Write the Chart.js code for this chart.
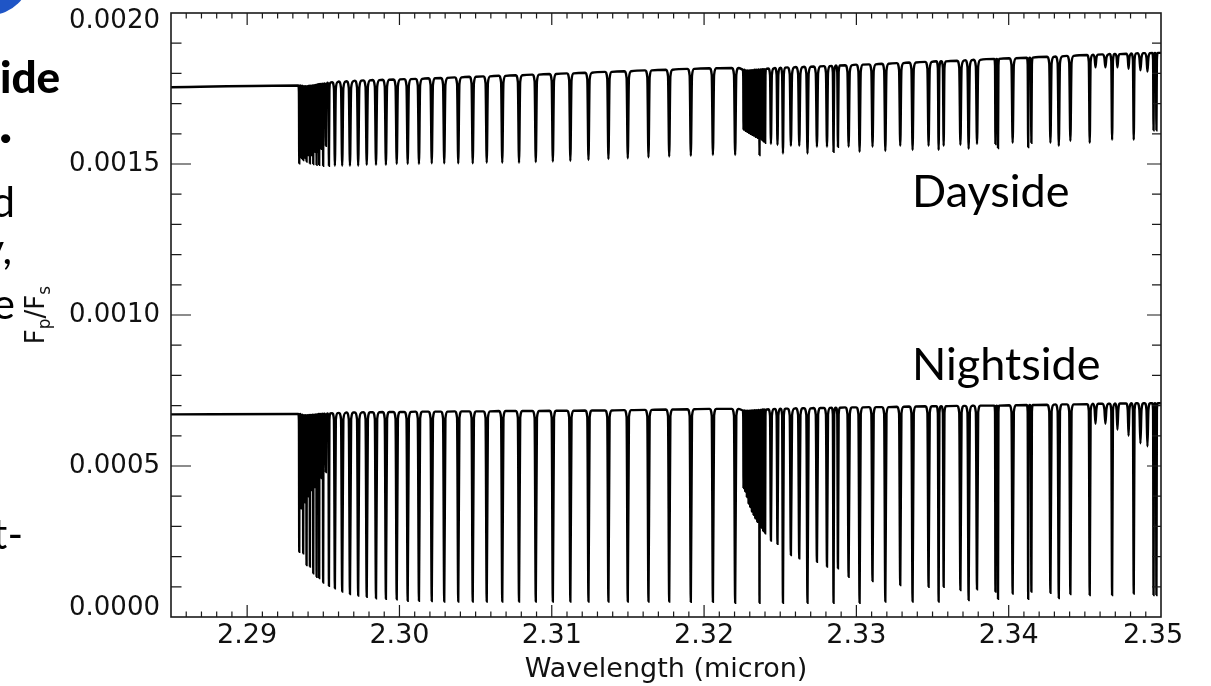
<!DOCTYPE html>
<html lang="en">
<head>
<meta charset="UTF-8">
<script src="https://cdn.jsdelivr.net/npm/chart.js"></script>
<style>
body { margin: 0; background: #fff; }
#wrap { width: 1211px; height: 686px; }
</style>
</head>
<body>
<div id="wrap"><canvas id="spec" width="1211" height="686"></canvas></div>
<script>
// line centres (micron)
const lineWl = [2.29342, 2.29355, 2.29368, 2.29379, 2.29390, 2.29401, 2.29412, 2.29423, 2.29434, 2.29445,
  2.29456, 2.29465, 2.29473, 2.29486, 2.29499, 2.29517, 2.29537, 2.29576, 2.29624, 2.29675,
  2.29729, 2.29785, 2.29846, 2.29911, 2.29982, 2.30054, 2.30128, 2.30212, 2.30294, 2.30386,
  2.30481, 2.30573, 2.30675, 2.30785, 2.30895, 2.31007, 2.31122, 2.31241, 2.31372, 2.31499,
  2.31635, 2.31771, 2.31913, 2.32058, 2.32204, 2.32259, 2.32270, 2.32281, 2.32292, 2.32303,
  2.32314, 2.32325, 2.32336, 2.32349, 2.32364, 2.32378, 2.32388, 2.32401, 2.32439, 2.32482,
  2.32518, 2.32570, 2.32625, 2.32679, 2.32741, 2.32807, 2.32850, 2.32879, 2.32949, 2.33021,
  2.33106, 2.33190, 2.33288, 2.33369, 2.33474, 2.33540, 2.33573, 2.33683, 2.33737, 2.33792,
  2.33913, 2.33930, 2.34026, 2.34128, 2.34149, 2.34274, 2.34329, 2.34405, 2.34532, 2.34570,
  2.34635, 2.34679, 2.34714, 2.34787, 2.34821, 2.34865, 2.34911, 2.34951, 2.34970];

// nightside: line bottoms and continuum beside each line
const nightMin = [.000216, .000360, .000211, .000380, .000172, .000400, .000167, .000420, .000145, .000430,
  .000133, .000450, .000129, .000460, .000114, .000480, .000103, .000095, .000084, .000076,
  .000071, .000067, .000062, .000060, .000059, .000054, .000054, .000053, .000051, .000051,
  .000051, .000051, .000051, .000051, .000051, .000051, .000051, .000051, .000051, .000051,
  .000051, .000051, .000050, .000050, .000047, .000427, .000415, .000397, .000376, .000364,
  .000349, .000338, .000327, .000315, .000047, .000295, .000285, .000277, .000253, .000242,
  .000047, .000205, .000194, .000047, .000183, .000167, .000047, .000161, .000133, .000047,
  .000119, .000051, .000106, .000051, .000100, .000051, .000100, .000089, .000056, .000092,
  .000084, .000060, .000078, .000060, .000084, .000080, .000063, .000076, .000073, .000640,
  .000640, .000073, .000620, .000600, .000078, .000575, .000565, .000073, .000073];
const nightTop = [.000672, .000670, .000668, .000668, .000668, .000668, .000669, .000669, .000670, .000670,
  .000671, .000671, .000672, .000672, .000673, .000673, .000674, .000675, .000676, .000677,
  .000677, .000678, .000678, .000679, .000679, .000679, .000680, .000680, .000680, .000681,
  .000681, .000681, .000682, .000682, .000682, .000683, .000683, .000684, .000684, .000685,
  .000686, .000687, .000688, .000689, .000689, .000684, .000683, .000683, .000683, .000683,
  .000684, .000684, .000685, .000685, .000686, .000686, .000687, .000687, .000688, .000689,
  .000690, .000690, .000691, .000691, .000692, .000692, .000693, .000693, .000694, .000694,
  .000695, .000695, .000696, .000697, .000698, .000698, .000698, .000699, .000699, .000700,
  .000700, .000700, .000701, .000702, .000702, .000703, .000704, .000704, .000705, .000706,
  .000706, .000706, .000707, .000707, .000708, .000708, .000708, .000708, .000708];

// dayside
const dayMin = [.001502, .001520, .001513, .001520, .001508, .001530, .001502, .001530, .001500, .001540,
  .001497, .001540, .001497, .001550, .001494, .001560, .001494, .001494, .001494, .001494,
  .001494, .001497, .001497, .001497, .001500, .001500, .001500, .001502, .001502, .001502,
  .001502, .001504, .001504, .001504, .001506, .001508, .001510, .001513, .001516, .001519,
  .001522, .001525, .001527, .001530, .001530, .001614, .001610, .001607, .001603, .001600,
  .001597, .001594, .001590, .001587, .001530, .001580, .001575, .001570, .001566, .001563,
  .001535, .001560, .001560, .001535, .001557, .001557, .001540, .001557, .001557, .001540,
  .001557, .001543, .001560, .001546, .001560, .001546, .001560, .001563, .001550, .001566,
  .001566, .001553, .001570, .001556, .001570, .001570, .001560, .001576, .001570, .001820,
  .001820, .001580, .001820, .001815, .001580, .001810, .001806, .001612, .001612];
const dayTop = [.001760, .001759, .001758, .001758, .001758, .001758, .001759, .001759, .001760, .001761,
  .001762, .001763, .001764, .001765, .001766, .001767, .001769, .001771, .001773, .001774,
  .001776, .001777, .001778, .001779, .001780, .001781, .001782, .001784, .001785, .001787,
  .001789, .001790, .001792, .001794, .001796, .001798, .001800, .001802, .001805, .001807,
  .001810, .001812, .001815, .001817, .001818, .001812, .001810, .001810, .001810, .001810,
  .001811, .001811, .001812, .001812, .001813, .001813, .001814, .001814, .001816, .001818,
  .001819, .001820, .001821, .001822, .001823, .001824, .001825, .001826, .001827, .001829,
  .001830, .001832, .001834, .001836, .001838, .001840, .001840, .001842, .001844, .001845,
  .001848, .001848, .001850, .001852, .001852, .001855, .001856, .001858, .001861, .001862,
  .001863, .001864, .001864, .001865, .001866, .001867, .001867, .001868, .001868];

// continuum at both ends of the window
const edgeWl = [2.285, 2.35];
const nightEdge = [0.000671, 0.000708];
const dayEdge = [0.001754, 0.001868];

const xTickValues = [2.29, 2.30, 2.31, 2.32, 2.33, 2.34, 2.35];
const xTickLabels = ['2.29', '2.30', '2.31', '2.32', '2.33', '2.34', '2.35'];
const yTickValues = [0, 0.0005, 0.0010, 0.0015, 0.0020];
const yTickLabels = ['0.0000', '0.0005', '0.0010', '0.0015', '0.0020'];

// profile shape of a drawn line: shoulder half width, inner width, shoulder drop
const SHOULDER_W = 0.00022;
const CORE_FRAC = 0.35;
const SHOULDER_DROP = 0.000022;
const AXIS_FONT = "'DejaVu Sans', 'Liberation Sans', sans-serif";
const SLIDE_FONT = "Lato, 'Open Sans', sans-serif";

function buildSeries(top, bottom, edge) {
  const pts = [{x: edgeWl[0], y: edge[0]}];
  for (let i = 0; i < lineWl.length; i++) {
    const c = lineWl[i];
    const gl = i > 0 ? c - lineWl[i - 1] : 1;
    const gr = i < lineWl.length - 1 ? lineWl[i + 1] - c : 1;
    const w1 = Math.min(SHOULDER_W, 0.45 * gl, 0.45 * gr);
    const w2 = w1 * CORE_FRAC;
    const s = top[i] - Math.min(SHOULDER_DROP, 0.25 * (top[i] - bottom[i]));
    pts.push({x: c - w1, y: top[i]}, {x: c - w2, y: s}, {x: c, y: bottom[i]},
             {x: c + w2, y: s}, {x: c + w1, y: top[i]});
  }
  pts.push({x: edgeWl[1], y: edge[1]});
  return pts;
}

const framePlugin = {
  id: 'frame',
  afterDraw(chart) {
    const ctx = chart.ctx;
    const a = chart.chartArea;
    const xs = chart.scales.x, ys = chart.scales.y;
    ctx.save();
    ctx.strokeStyle = '#1a1a1a';
    ctx.lineWidth = 1.6;
    ctx.strokeRect(a.left, a.top, a.right - a.left, a.bottom - a.top);
    ctx.lineWidth = 1.2;
    ctx.beginPath();
    // x ticks, pointing inwards on bottom and top
    for (let k = 1; k < 65; k++) {
      const v = 2.285 + k * 0.001;
      const px = xs.getPixelForValue(v);
      const major = k % 10 === 5;
      const len = major ? 12 : 5.5;
      ctx.moveTo(px, a.bottom); ctx.lineTo(px, a.bottom - len);
      ctx.moveTo(px, a.top); ctx.lineTo(px, a.top + len);
    }
    // y ticks
    for (let k = 1; k < 20; k++) {
      const py = ys.getPixelForValue(k * 0.0001);
      const major = k % 5 === 0;
      ctx.moveTo(a.left, py); ctx.lineTo(a.left + (major ? 20 : 10.5), py);
      ctx.moveTo(a.right, py); ctx.lineTo(a.right - (major ? 14 : 9), py);
    }
    ctx.stroke();

    // tick labels
    ctx.fillStyle = '#111';
    ctx.font = '27px ' + AXIS_FONT;
    ctx.textAlign = 'center';
    ctx.textBaseline = 'alphabetic';
    xTickValues.forEach((v, i) => {
      const px = Math.min(xs.getPixelForValue(v), a.right - 8);
      ctx.fillText(xTickLabels[i], px, a.bottom + 26);
    });
    ctx.font = '26px ' + AXIS_FONT;
    ctx.textAlign = 'right';
    ctx.textBaseline = 'middle';
    yTickValues.forEach((v, i) => {
      let py = ys.getPixelForValue(v);
      py = Math.min(Math.max(py, a.top + 8), a.bottom - 9);
      ctx.fillText(yTickLabels[i], a.left - 11, py);
    });

    // y title F_p/F_s, rotated
    ctx.translate(44, (a.top + a.bottom) / 2);
    ctx.rotate(-Math.PI / 2);
    ctx.textAlign = 'left';
    ctx.textBaseline = 'alphabetic';
    const big = '26px ' + AXIS_FONT, small = '17px ' + AXIS_FONT;
    const parts = [['F', big, 0], ['p', small, 6], ['/F', big, 0], ['s', small, 6]];
    let total = 0;
    parts.forEach(p => { ctx.font = p[1]; total += ctx.measureText(p[0]).width; });
    let cx = -total / 2;
    parts.forEach(p => {
      ctx.font = p[1];
      ctx.fillText(p[0], cx, p[2]);
      cx += ctx.measureText(p[0]).width;
    });
    ctx.restore();

    // series labels
    ctx.save();
    ctx.fillStyle = '#000';
    ctx.font = '45px ' + SLIDE_FONT;
    ctx.textAlign = 'left';
    ctx.textBaseline = 'alphabetic';
    ctx.fillText('Dayside', 912, 207);
    ctx.fillText('Nightside', 912, 380);

    // fragments of the slide text at the left edge
    ctx.font = '900 44px ' + SLIDE_FONT;
    ctx.fillText('ide', 0, 93);
    ctx.font = '900 56px ' + SLIDE_FONT;
    ctx.fillText('.', -1, 143);
    ctx.font = '42px ' + SLIDE_FONT;
    ctx.textAlign = 'right';
    ctx.fillText('d', 15, 217);
    ctx.fillText('y,', 12, 264);
    ctx.fillText('e', 15, 319);
    ctx.fillText('t-', 23, 549);

    ctx.fillStyle = '#1f55c6';
    ctx.beginPath();
    ctx.arc(-10, -25, 40, 0, Math.PI * 2);
    ctx.fill();
    ctx.restore();
  }
};

new Chart(document.getElementById('spec'), {
  type: 'line',
  data: {
    datasets: [
      { label: 'Dayside', data: buildSeries(dayTop, dayMin, dayEdge) },
      { label: 'Nightside', data: buildSeries(nightTop, nightMin, nightEdge) }
    ]
  },
  options: {
    responsive: false,
    animation: false,
    devicePixelRatio: 1,
    layout: { padding: { top: 13, right: 50, left: 0, bottom: 0 } },
    elements: {
      line: { borderColor: '#000', borderWidth: 2.4, cubicInterpolationMode: 'monotone' },
      point: { radius: 0, hoverRadius: 0 }
    },
    plugins: { legend: { display: false }, tooltip: { enabled: false } },
    scales: {
      x: {
        type: 'linear', min: 2.285, max: 2.35,
        grid: { display: false }, border: { display: false },
        ticks: { display: false },
        title: { display: true, text: 'Wavelength (micron)', color: '#111',
          font: { family: AXIS_FONT, size: 27 }, padding: { top: 0, bottom: 0 } },
        afterFit(s) { s.height = 69; }
      },
      y: {
        type: 'linear', min: 0, max: 0.002,
        grid: { display: false }, border: { display: false },
        ticks: { display: false },
        afterFit(s) { s.width = 171; }
      }
    }
  },
  plugins: [framePlugin]
});
</script>
</body>
</html>
